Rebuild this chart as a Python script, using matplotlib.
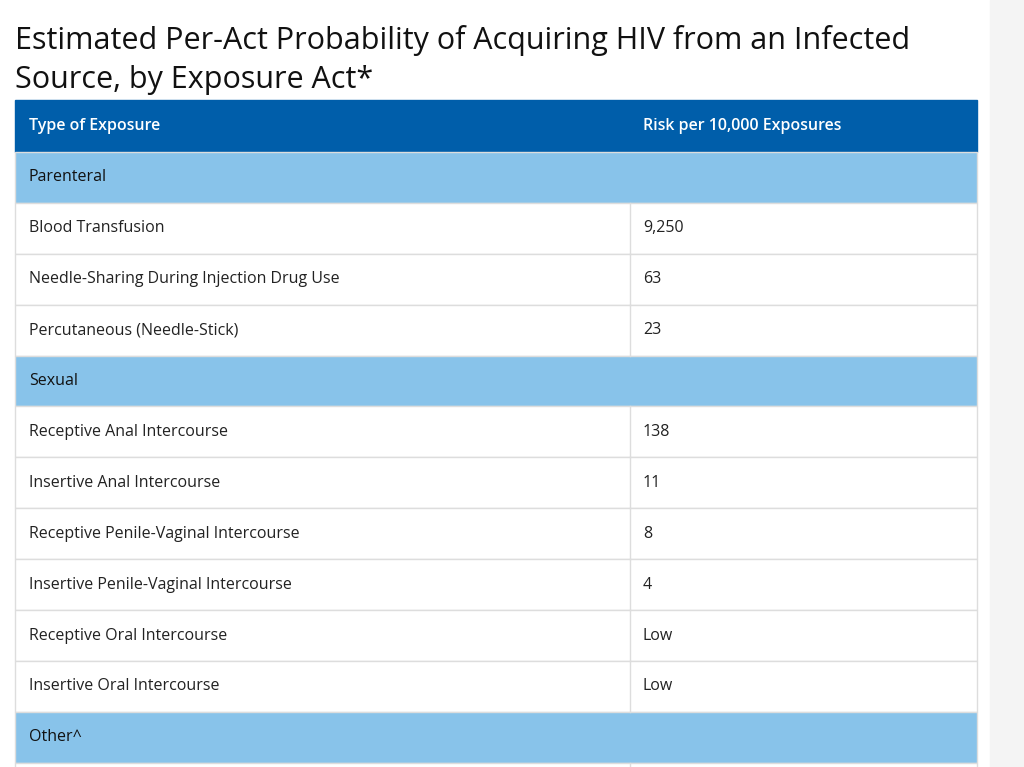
import matplotlib
matplotlib.use("Agg")
import matplotlib.pyplot as plt
from matplotlib.patches import Rectangle

title_lines = ["Estimated Per-Act Probability of Acquiring HIV from an Infected", "Source, by Exposure Act*"]
header = ["Type of Exposure", "Risk per 10,000 Exposures"]
rows = [
    ("section", "Parenteral", ""),
    ("row", "Blood Transfusion", "9,250"),
    ("row", "Needle-Sharing During Injection Drug Use", "63"),
    ("row", "Percutaneous (Needle-Stick)", "23"),
    ("section", "Sexual", ""),
    ("row", "Receptive Anal Intercourse", "138"),
    ("row", "Insertive Anal Intercourse", "11"),
    ("row", "Receptive Penile-Vaginal Intercourse", "8"),
    ("row", "Insertive Penile-Vaginal Intercourse", "4"),
    ("row", "Receptive Oral Intercourse", "Low"),
    ("row", "Insertive Oral Intercourse", "Low"),
    ("section", "Other^", ""),
    ("row", "", ""),
]

plt.rcParams['font.family'] = ['Open Sans', 'DejaVu Sans']
fig = plt.figure(figsize=(10.24, 7.67), dpi=100)
ax = fig.add_axes([0, 0, 1, 1])
ax.set_xlim(0, 1024); ax.set_ylim(767, 0); ax.axis('off')

ax.add_patch(Rectangle((990, 0), 34, 767, color='#f4f4f4', zorder=0))
ax.text(15, 40, title_lines[0], fontsize=22, va='center', ha='left', color='#111111')
ax.text(15, 80, title_lines[1], fontsize=22, va='center', ha='left', color='#111111')

L, R, C = 15, 977, 630
top, hh, rh = 100, 52, 50.9
ax.add_patch(Rectangle((L, top), R - L, hh, color='#005eaa', zorder=1))
ax.text(29, top + hh / 2, header[0], color='white', fontsize=11.5, weight='semibold', va='center')
ax.text(643, top + hh / 2, header[1], color='white', fontsize=11.5, weight='semibold', va='center')

y = top + hh
for kind, a, b in rows:
    if kind == "section":
        ax.add_patch(Rectangle((L, y), R - L, rh, facecolor='#88c3ea', edgecolor='#dddddd', lw=1, zorder=1))
        ax.text(29, y + rh / 2, a, fontsize=11.5, weight='medium', color='#111111', va='center')
    else:
        ax.add_patch(Rectangle((L, y), R - L, rh, facecolor='white', edgecolor='#dddddd', lw=1, zorder=1))
        ax.plot([C, C], [y, y + rh], color='#dddddd', lw=1, zorder=2)
        ax.text(29, y + rh / 2, a, fontsize=11.5, color='#222222', va='center')
        ax.text(643, y + rh / 2, b, fontsize=11.5, color='#222222', va='center')
    y += rh

fig.savefig("out.png", dpi=100)
